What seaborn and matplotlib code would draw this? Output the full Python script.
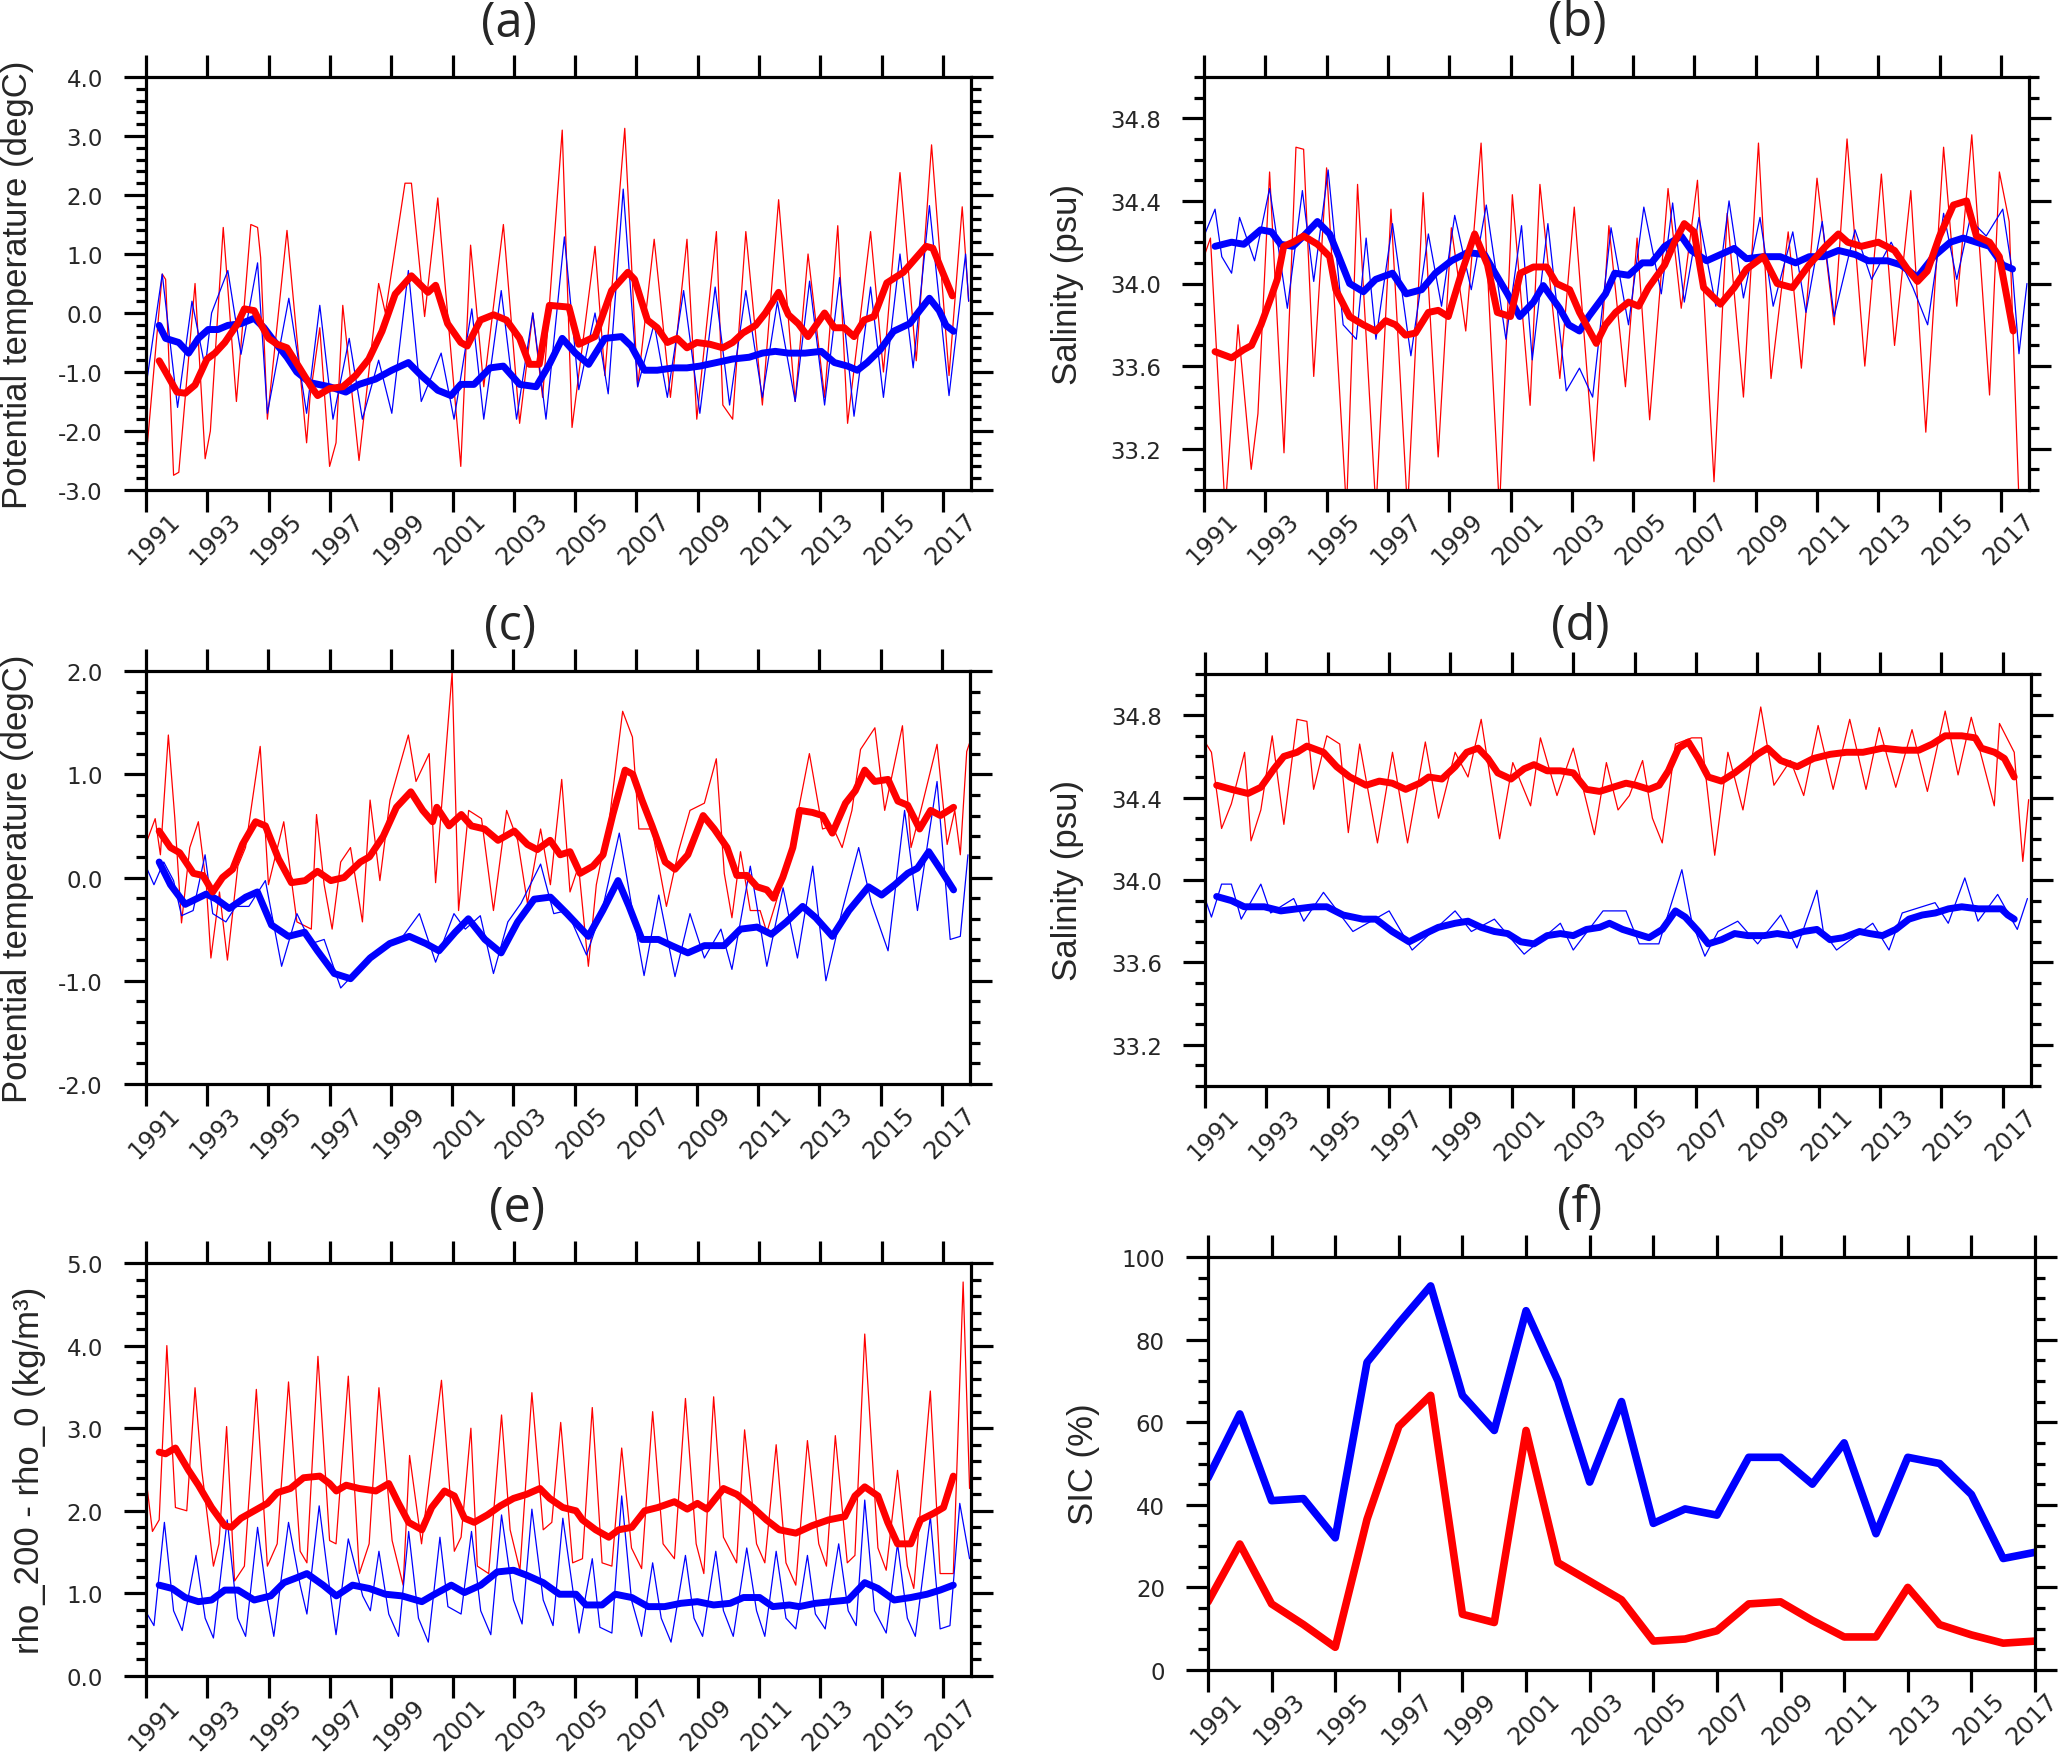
import matplotlib
matplotlib.use("Agg")
import matplotlib.pyplot as plt
import matplotlib.transforms as mtransforms
import seaborn as sns
from matplotlib.ticker import MultipleLocator, FixedLocator, FuncFormatter

# ---------------- data (year, value) ----------------
# (a) potential temperature, surface layer
a_red_thin = [(1991.04,-2.25),(1991.53,0.66),(1991.64,0.57),(1991.9,-2.75),(1992.07,-2.7),(1992.6,0.5),
    (1992.93,-2.47),(1993.1,-2.0),(1993.52,1.45),(1993.95,-1.5),(1994.42,1.5),(1994.64,1.45),(1994.74,0.94),
    (1994.96,-1.8),(1995.6,1.4),(1996.24,-2.2),(1996.35,-1.43),(1996.67,-0.25),(1996.99,-2.6),(1997.2,-2.2),
    (1997.42,0.13),(1997.95,-2.5),(1998.59,0.5),(1998.81,0.0),(1999.45,2.2),(1999.66,2.2),(2000.09,-0.06),
    (2000.52,1.95),(2000.63,1.25),(2001.27,-2.6),(2001.59,1.15),(2002.02,-1.25),(2002.66,1.5),(2003.19,-1.87),
    (2003.62,0.0),(2003.94,-1.43),(2004.58,3.1),(2004.9,-1.94),(2005.65,1.13),(2005.97,-1.06),(2006.62,3.13),
    (2007.04,-1.25),(2007.58,1.25),(2008.11,-1.43),(2008.65,1.25),(2008.97,-1.8),(2009.61,1.38),(2009.82,-1.56),
    (2010.14,-1.8),(2010.57,1.38),(2011.11,-1.56),(2011.64,1.92),(2012.18,-1.5),(2012.6,1.0),(2013.14,-1.43),
    (2013.57,1.48),(2013.89,-1.87),(2014.64,1.38),(2015.06,-1.0),(2015.6,2.38),(2016.13,-0.81),(2016.63,2.85),
    (2017.2,-1.06),(2017.63,1.8),(2017.84,0.2)]
a_blue_thin = [(1991.04,-1.1),(1991.53,0.66),(1992.03,-1.6),(1992.5,0.2),(1992.93,-0.93),(1993.14,0.0),
    (1993.67,0.72),(1994.1,-0.7),(1994.64,0.85),(1994.96,-1.7),(1995.66,0.25),(1996.24,-1.7),(1996.67,0.13),
    (1997.1,-1.8),(1997.63,-0.43),(1998.06,-1.8),(1998.59,-0.8),(1999.02,-1.7),(1999.56,0.72),(1999.98,-1.5),
    (2000.63,-0.68),(2001.05,-1.8),(2001.63,0.07),(2002.02,-1.8),(2002.59,0.38),(2003.09,-1.8),(2003.62,0.0),
    (2004.05,-1.8),(2004.65,1.29),(2005.12,-1.3),(2005.65,0.0),(2006.08,-1.37),(2006.57,2.1),(2007.04,-1.25),
    (2007.58,-0.18),(2008.01,-1.43),(2008.54,0.38),(2009.07,-1.7),(2009.57,0.44),(2010.04,-1.56),(2010.57,0.38),
    (2011.11,-1.43),(2011.6,0.19),(2012.18,-1.5),(2012.65,0.54),(2013.14,-1.56),(2013.63,0.6),(2014.1,-1.75),
    (2014.64,0.44),(2015.06,-1.43),(2015.6,1.0),(2016.03,-0.93),(2016.56,1.82),(2017.2,-1.4),(2017.74,1.0),
    (2017.84,0.2)]
a_red_thick = [(1991.43,-0.81),(1991.64,-1.0),(1992.01,-1.34),(1992.28,-1.36),(1992.6,-1.22),(1992.99,-0.78),
    (1993.25,-0.68),(1993.57,-0.5),(1993.99,-0.18),(1994.21,0.07),(1994.53,0.04),(1994.74,-0.18),(1995.0,-0.43),
    (1995.28,-0.53),(1995.6,-0.59),(1996.01,-0.93),(1996.39,-1.25),(1996.6,-1.4),(1996.99,-1.28),(1997.42,-1.25),
    (1997.84,-1.06),(1998.27,-0.78),(1998.7,-0.31),(1999.13,0.32),(1999.66,0.63),(2000.2,0.35),(2000.45,0.47),
    (2000.84,-0.18),(2001.27,-0.5),(2001.48,-0.56),(2001.91,-0.12),(2002.34,-0.03),(2002.76,-0.12),(2003.19,-0.43),
    (2003.51,-0.87),(2003.83,-0.87),(2004.16,0.13),(2004.8,0.1),(2005.12,-0.53),(2005.65,-0.4),(2006.19,0.38),
    (2006.72,0.69),(2006.94,0.57),(2007.36,-0.12),(2007.68,-0.25),(2008.01,-0.5),(2008.33,-0.43),(2008.65,-0.59),
    (2008.97,-0.5),(2009.4,-0.53),(2009.82,-0.59),(2010.14,-0.5),(2010.47,-0.34),(2010.89,-0.21),(2011.21,0.0),
    (2011.64,0.35),(2011.96,-0.03),(2012.28,-0.18),(2012.6,-0.4),(2013.14,0.0),(2013.46,-0.25),(2013.78,-0.25),
    (2014.1,-0.4),(2014.43,-0.12),(2014.75,-0.06),(2015.17,0.51),(2015.71,0.69),(2016.13,0.94),(2016.45,1.13),
    (2016.67,1.1),(2016.99,0.69),(2017.31,0.29)]
a_blue_thick = [(1991.43,-0.21),(1991.64,-0.43),(1992.07,-0.5),(1992.39,-0.68),(1992.71,-0.43),(1993.03,-0.28),
    (1993.35,-0.28),(1993.67,-0.21),(1994.1,-0.18),(1994.53,-0.09),(1994.85,-0.25),(1995.17,-0.47),(1995.6,-0.75),
    (1995.92,-1.0),(1996.35,-1.18),(1996.99,-1.25),(1997.52,-1.34),(1997.95,-1.21),(1998.49,-1.12),(1999.02,-0.97),
    (1999.56,-0.84),(1999.98,-1.06),(2000.52,-1.31),(2000.95,-1.4),(2001.27,-1.21),(2001.7,-1.21),(2002.23,-0.93),
    (2002.66,-0.9),(2003.19,-1.21),(2003.73,-1.25),(2004.16,-0.87),(2004.58,-0.43),(2005.01,-0.68),(2005.44,-0.87),
    (2005.97,-0.43),(2006.51,-0.4),(2006.83,-0.56),(2007.26,-0.97),(2007.68,-0.97),(2008.22,-0.93),(2008.65,-0.93),
    (2009.07,-0.9),(2009.61,-0.84),(2010.14,-0.78),(2010.68,-0.75),(2011.11,-0.68),(2011.53,-0.65),(2011.96,-0.68),
    (2012.5,-0.68),(2013.03,-0.65),(2013.46,-0.84),(2013.89,-0.9),(2014.21,-0.97),(2014.53,-0.84),(2014.96,-0.62),
    (2015.39,-0.31),(2015.92,-0.18),(2016.24,0.04),(2016.56,0.25),(2016.88,0.04),(2017.1,-0.21),(2017.35,-0.31)]

# (b) salinity, surface layer
b_red_thin = [(1991.0,34.13),(1991.21,34.22),(1991.69,32.9),(1992.11,33.8),(1992.54,33.1),(1992.76,33.37),
    (1993.14,34.54),(1993.61,33.18),(1994.0,34.66),(1994.25,34.65),(1994.58,33.55),(1995.0,34.56),(1995.65,32.9),
    (1996.01,34.48),(1996.61,32.9),(1997.1,34.36),(1997.64,32.9),(1998.15,34.44),(1998.64,33.16),(1999.07,34.27),
    (1999.54,33.77),(2000.04,34.68),(2000.64,32.9),(2001.06,34.43),(2001.64,33.41),(2001.96,34.48),(2002.61,33.54),
    (2003.08,34.37),(2003.72,33.14),(2004.21,34.28),(2004.75,33.5),(2005.13,34.22),(2005.54,33.34),(2006.14,34.46),
    (2006.57,33.88),(2007.1,34.5),(2007.64,33.04),(2008.07,34.34),(2008.6,33.45),(2009.09,34.68),(2009.5,33.54),
    (2010.06,34.25),(2010.49,33.59),(2011.0,34.51),(2011.56,33.8),(2011.98,34.7),(2012.56,33.6),(2013.1,34.53),
    (2013.53,33.7),(2014.06,34.45),(2014.55,33.28),(2015.13,34.66),(2015.56,33.89),(2016.05,34.72),(2016.63,33.46),
    (2016.95,34.54),(2017.27,34.3),(2017.6,32.9),(2017.81,32.9)]
b_blue_thin = [(1991.0,34.23),(1991.36,34.36),(1991.58,34.13),(1991.9,34.05),(1992.16,34.32),(1992.65,34.11),
    (1993.14,34.46),(1993.72,33.88),(1994.21,34.45),(1994.58,34.01),(1995.05,34.55),(1995.54,33.8),(1995.97,33.73),
    (1996.29,34.22),(1996.61,33.73),(1997.15,34.29),(1997.75,33.65),(1998.32,34.24),(1998.75,33.89),(1999.18,34.33),
    (1999.72,33.97),(2000.21,34.38),(2000.85,33.73),(2001.36,34.28),(2001.71,33.63),(2002.22,34.29),(2002.82,33.48),
    (2003.25,33.59),(2003.68,33.45),(2004.28,34.27),(2004.85,33.8),(2005.35,34.37),(2005.92,33.95),(2006.29,34.39),
    (2006.67,33.91),(2007.15,34.32),(2007.7,33.89),(2008.13,34.4),(2008.6,33.93),(2009.14,34.32),(2009.57,33.89),
    (2010.21,34.25),(2010.64,33.86),(2011.17,34.3),(2011.56,33.84),(2012.24,34.26),(2012.78,34.02),(2013.42,34.2),
    (2014.13,33.98),(2014.61,33.8),(2015.13,34.34),(2015.56,34.02),(2015.99,34.31),(2016.52,34.23),(2017.06,34.36),
    (2017.38,34.05),(2017.59,33.66),(2017.85,34.0)]
b_red_thick = [(1991.36,33.67),(1991.9,33.64),(1992.3,33.68),(1992.55,33.7),(1992.86,33.8),(1993.18,33.93),
    (1993.39,34.02),(1993.6,34.18),(1993.9,34.2),(1994.25,34.23),(1994.7,34.19),(1995.1,34.13),(1995.3,33.97),
    (1995.75,33.84),(1996.2,33.8),(1996.6,33.77),(1996.93,33.82),(1997.25,33.8),(1997.57,33.75),(1997.9,33.76),
    (1998.32,33.86),(1998.64,33.87),(1998.97,33.84),(1999.4,34.05),(1999.83,34.24),(2000.25,34.09),(2000.57,33.86),
    (2001.0,33.84),(2001.32,34.05),(2001.75,34.08),(2002.18,34.08),(2002.5,34.0),(2002.93,33.97),(2003.25,33.86),
    (2003.8,33.71),(2004.1,33.8),(2004.43,33.86),(2004.85,33.91),(2005.18,33.89),(2005.5,33.98),(2006.03,34.09),
    (2006.35,34.2),(2006.67,34.29),(2006.99,34.25),(2007.3,33.98),(2007.85,33.9),(2008.3,33.98),(2008.7,34.07),
    (2009.25,34.13),(2009.7,34.0),(2010.2,33.98),(2010.74,34.09),(2011.28,34.18),(2011.7,34.24),(2012.0,34.2),
    (2012.45,34.18),(2013.0,34.2),(2013.53,34.16),(2013.95,34.07),(2014.28,34.01),(2014.6,34.06),(2015.0,34.23),
    (2015.45,34.38),(2015.88,34.4),(2016.2,34.23),(2016.63,34.2),(2016.95,34.13),(2017.15,33.97),(2017.4,33.77)]
b_blue_thick = [(1991.36,34.18),(1991.9,34.2),(1992.3,34.19),(1992.85,34.26),(1993.2,34.25),(1993.5,34.19),
    (1993.9,34.18),(1994.25,34.23),(1994.7,34.3),(1995.1,34.24),(1995.4,34.13),(1995.75,34.0),(1996.2,33.96),
    (1996.6,34.02),(1997.15,34.05),(1997.6,33.95),(1998.1,33.97),(1998.55,34.05),(1999.07,34.11),(1999.6,34.15),
    (2000.15,34.14),(2000.5,34.05),(2000.9,33.95),(2001.3,33.84),(2001.75,33.91),(2002.07,33.99),(2002.6,33.88),
    (2002.9,33.8),(2003.25,33.77),(2003.55,33.84),(2004.1,33.95),(2004.4,34.05),(2004.85,34.04),(2005.3,34.1),
    (2005.6,34.1),(2006.03,34.18),(2006.57,34.23),(2006.9,34.16),(2007.4,34.11),(2007.85,34.14),(2008.3,34.17),
    (2008.7,34.12),(2009.25,34.13),(2009.8,34.13),(2010.3,34.1),(2010.75,34.13),(2011.2,34.13),(2011.7,34.16),
    (2012.25,34.14),(2012.67,34.11),(2013.3,34.11),(2013.74,34.09),(2014.27,34.03),(2014.8,34.13),(2015.35,34.2),
    (2015.77,34.22),(2016.2,34.2),(2016.63,34.18),(2017.06,34.09),(2017.38,34.07)]

# (c) potential temperature, deeper layer
c_red_thin = [(1991.04,0.36),(1991.3,0.57),(1991.47,0.22),(1991.73,1.38),(1991.94,0.58),(1992.16,-0.44),
    (1992.43,0.29),(1992.71,0.54),(1992.97,-0.07),(1993.12,-0.78),(1993.4,-0.14),(1993.66,-0.8),(1994.0,0.11),
    (1994.25,0.29),(1994.73,1.27),(1995.0,-0.07),(1995.5,0.54),(1995.93,-0.43),(1996.4,-0.5),(1996.57,0.61),
    (1996.82,-0.07),(1997.08,-0.5),(1997.36,0.15),(1997.68,0.29),(1998.07,-0.43),(1998.32,0.75),(1998.64,-0.03),
    (1998.97,0.75),(1999.57,1.38),(1999.82,0.93),(2000.25,1.2),(2000.46,-0.05),(2001.0,1.99),(2001.21,-0.32),
    (2001.54,0.65),(2001.96,0.57),(2002.35,-0.32),(2002.78,0.65),(2003.14,0.36),(2003.46,-0.25),(2003.89,0.47),
    (2004.21,-0.07),(2004.58,0.95),(2004.85,-0.14),(2005.13,0.11),(2005.45,-0.86),(2005.71,-0.07),(2006.14,0.57),
    (2006.57,1.61),(2006.89,1.36),(2007.1,0.47),(2007.53,0.47),(2008.0,-0.28),(2008.39,0.25),(2008.77,0.65),
    (2009.24,0.72),(2009.63,1.15),(2009.89,0.04),(2010.14,-0.39),(2010.42,0.25),(2010.74,-0.32),(2011.06,-0.32),
    (2011.28,-0.53),(2011.64,-0.18),(2012.03,0.22),(2012.67,1.2),(2013.1,0.47),(2013.42,0.5),(2013.74,0.29),
    (2014.06,0.65),(2014.34,1.24),(2014.81,1.45),(2015.13,0.65),(2015.71,1.47),(2015.99,0.29),(2016.31,0.65),
    (2016.84,1.29),(2017.17,0.32),(2017.42,0.65),(2017.6,0.22),(2017.81,1.22),(2017.9,1.3)]
c_blue_thin = [(1991.04,0.08),(1991.26,-0.07),(1991.58,0.15),(1991.9,-0.03),(1992.16,-0.37),(1992.54,-0.32),
    (1992.93,0.22),(1993.18,-0.35),(1993.61,-0.43),(1993.93,-0.28),(1994.36,-0.28),(1994.9,-0.03),(1995.43,-0.86),
    (1995.93,-0.35),(1996.4,-0.64),(1996.82,-0.6),(1997.36,-1.07),(1997.9,-0.9),(1998.32,-0.75),(1998.97,-0.64),
    (1999.39,-0.57),(1999.93,-0.35),(2000.46,-0.82),(2001.06,-0.35),(2001.43,-0.5),(2001.92,-0.37),(2002.35,-0.93),
    (2002.82,-0.43),(2003.25,-0.25),(2003.89,0.13),(2004.32,-0.35),(2004.75,-0.32),(2005.39,-0.75),(2005.93,-0.28),
    (2006.46,0.43),(2006.85,-0.25),(2007.27,-0.95),(2007.75,-0.17),(2008.28,-0.96),(2008.77,-0.35),(2009.24,-0.78),
    (2009.78,-0.5),(2010.14,-0.89),(2010.74,0.11),(2011.28,-0.86),(2011.81,-0.1),(2012.28,-0.78),(2012.78,0.11),
    (2013.21,-1.0),(2013.74,-0.32),(2014.28,0.29),(2014.7,-0.25),(2015.24,-0.71),(2015.78,0.65),(2016.2,-0.32),
    (2016.84,0.93),(2017.27,-0.6),(2017.6,-0.57),(2017.85,0.22)]
c_red_thick = [(1991.43,0.45),(1991.8,0.29),(1992.1,0.24),(1992.55,0.04),(1992.86,0.02),(1993.18,-0.14),
    (1993.5,0.0),(1993.83,0.08),(1994.15,0.32),(1994.58,0.54),(1994.9,0.5),(1995.33,0.18),(1995.75,-0.05),
    (1996.2,-0.03),(1996.6,0.06),(1997.04,-0.03),(1997.47,0.0),(1998.0,0.15),(1998.3,0.2),(1998.75,0.4),
    (1999.18,0.68),(1999.65,0.83),(2000.04,0.65),(2000.36,0.54),(2000.5,0.68),(2000.9,0.5),(2001.3,0.61),
    (2001.63,0.5),(2002.06,0.47),(2002.5,0.36),(2003.03,0.45),(2003.46,0.32),(2003.78,0.27),(2004.2,0.36),
    (2004.53,0.22),(2004.85,0.25),(2005.18,0.04),(2005.6,0.11),(2005.93,0.22),(2006.25,0.61),(2006.65,1.04),
    (2006.9,1.0),(2007.2,0.75),(2007.53,0.5),(2007.96,0.15),(2008.28,0.08),(2008.7,0.22),(2009.2,0.6),
    (2009.56,0.47),(2009.98,0.29),(2010.3,0.02),(2010.63,0.02),(2010.96,-0.09),(2011.28,-0.12),(2011.5,-0.2),
    (2011.8,0.0),(2012.13,0.29),(2012.35,0.65),(2012.77,0.63),(2013.1,0.6),(2013.42,0.43),(2013.85,0.72),
    (2014.17,0.84),(2014.48,1.04),(2014.8,0.93),(2015.24,0.95),(2015.56,0.74),(2015.88,0.7),(2016.27,0.47),
    (2016.63,0.65),(2016.95,0.6),(2017.38,0.68)]
c_blue_thick = [(1991.43,0.15),(1991.8,-0.07),(1992.28,-0.26),(1992.97,-0.16),(1993.3,-0.21),(1993.72,-0.3),
    (1994.26,-0.19),(1994.64,-0.14),(1995.1,-0.46),(1995.65,-0.57),(1996.18,-0.53),(1996.6,-0.71),(1997.15,-0.93),
    (1997.68,-0.98),(1998.32,-0.78),(1998.96,-0.64),(1999.6,-0.57),(2000.14,-0.64),(2000.57,-0.71),(2001.1,-0.53),
    (2001.53,-0.4),(2002.07,-0.6),(2002.6,-0.73),(2003.14,-0.43),(2003.68,-0.21),(2004.21,-0.19),(2004.75,-0.35),
    (2005.45,-0.57),(2005.92,-0.32),(2006.42,-0.03),(2006.78,-0.28),(2007.2,-0.6),(2007.74,-0.6),(2008.17,-0.66),
    (2008.7,-0.73),(2009.24,-0.66),(2009.88,-0.66),(2010.42,-0.5),(2010.96,-0.48),(2011.43,-0.55),(2011.92,-0.43),
    (2012.45,-0.28),(2012.88,-0.39),(2013.42,-0.57),(2013.96,-0.32),(2014.6,-0.09),(2015.03,-0.17),(2015.46,-0.07),
    (2015.88,0.04),(2016.2,0.09),(2016.57,0.25),(2016.95,0.08),(2017.38,-0.12)]

# (d) salinity, deeper layer
d_red_thin = [(1991.0,34.67),(1991.21,34.62),(1991.54,34.25),(1991.86,34.37),(1992.29,34.62),(1992.5,34.19),
    (1992.82,34.34),(1993.19,34.7),(1993.57,34.27),(1994.0,34.78),(1994.32,34.77),(1994.54,34.44),(1994.97,34.7),
    (1995.39,34.66),(1995.67,34.23),(1996.04,34.66),(1996.62,34.18),(1997.11,34.62),(1997.6,34.18),(1998.18,34.67),
    (1998.61,34.3),(1999.15,34.62),(1999.57,34.5),(2000.0,34.78),(2000.6,34.2),(2001.03,34.57),(2001.61,34.36),
    (2001.93,34.69),(2002.47,34.41),(2003.0,34.64),(2003.69,34.22),(2004.08,34.57),(2004.46,34.34),(2004.83,34.41),
    (2005.26,34.58),(2005.58,34.3),(2005.9,34.18),(2006.33,34.66),(2006.86,34.69),(2007.18,34.69),(2007.61,34.12),
    (2008.04,34.62),(2008.53,34.34),(2009.11,34.84),(2009.54,34.46),(2010.08,34.58),(2010.51,34.41),(2010.98,34.75),
    (2011.47,34.44),(2012.01,34.78),(2012.54,34.44),(2012.97,34.74),(2013.51,34.45),(2014.04,34.73),(2014.54,34.43),
    (2015.12,34.82),(2015.54,34.51),(2015.97,34.79),(2016.72,34.36),(2016.89,34.76),(2017.37,34.62),(2017.65,34.09),
    (2017.84,34.39)]
d_blue_thin = [(1991.0,33.91),(1991.21,33.82),(1991.54,33.98),(1991.86,33.98),(1992.18,33.81),(1992.82,33.98),
    (1993.14,33.84),(1993.89,33.91),(1994.22,33.8),(1994.86,33.94),(1995.82,33.75),(1997.0,33.85),(1997.75,33.66),
    (1999.15,33.85),(1999.68,33.75),(2000.43,33.81),(2001.4,33.64),(2002.58,33.79),(2003.0,33.66),(2003.97,33.85),
    (2004.72,33.85),(2005.15,33.69),(2005.79,33.69),(2006.54,34.05),(2006.86,33.8),(2007.29,33.63),(2007.72,33.75),
    (2008.36,33.8),(2009.01,33.69),(2009.76,33.83),(2010.29,33.67),(2010.94,33.95),(2011.15,33.75),(2011.58,33.66),
    (2012.76,33.79),(2013.29,33.66),(2013.72,33.84),(2014.79,33.89),(2015.22,33.79),(2015.76,34.01),(2016.19,33.8),
    (2016.83,33.93),(2017.47,33.76),(2017.8,33.91)]
d_red_thick = [(1991.38,34.46),(1991.86,34.44),(1992.4,34.42),(1992.82,34.45),(1993.25,34.54),(1993.57,34.6),
    (1994.0,34.62),(1994.32,34.65),(1994.86,34.62),(1995.29,34.55),(1995.72,34.5),(1996.25,34.46),(1996.68,34.48),
    (1997.1,34.47),(1997.54,34.44),(1998.0,34.47),(1998.29,34.5),(1998.72,34.49),(1999.15,34.55),(1999.53,34.62),
    (1999.9,34.64),(2000.22,34.59),(2000.54,34.52),(2000.97,34.49),(2001.4,34.54),(2001.72,34.56),(2002.15,34.53),
    (2002.58,34.53),(2003.0,34.52),(2003.43,34.44),(2003.86,34.43),(2004.29,34.45),(2004.72,34.47),(2005.04,34.46),
    (2005.47,34.44),(2005.8,34.46),(2006.1,34.53),(2006.43,34.64),(2006.75,34.67),(2007.08,34.59),(2007.4,34.5),
    (2007.83,34.48),(2008.26,34.52),(2008.69,34.57),(2009.0,34.61),(2009.33,34.64),(2009.76,34.58),(2010.3,34.55),
    (2010.83,34.59),(2011.37,34.61),(2011.9,34.62),(2012.44,34.62),(2013.08,34.64),(2013.72,34.63),(2014.26,34.63),
    (2014.7,34.66),(2015.12,34.7),(2015.66,34.7),(2016.1,34.69),(2016.3,34.64),(2016.73,34.62),(2017.05,34.59),
    (2017.37,34.5)]
d_blue_thick = [(1991.38,33.92),(1991.86,33.9),(1992.28,33.87),(1992.93,33.87),(1993.47,33.85),(1994.0,33.86),
    (1994.54,33.87),(1994.97,33.87),(1995.5,33.83),(1996.14,33.81),(1996.57,33.81),(1997.1,33.75),(1997.65,33.7),
    (1998.18,33.74),(1998.6,33.77),(1999.15,33.79),(1999.57,33.8),(2000.0,33.77),(2000.43,33.75),(2000.86,33.74),
    (2001.29,33.7),(2001.72,33.69),(2002.15,33.73),(2002.58,33.74),(2003.0,33.73),(2003.43,33.76),(2003.86,33.77),
    (2004.18,33.79),(2004.61,33.76),(2005.04,33.74),(2005.47,33.72),(2005.9,33.76),(2006.33,33.85),(2006.65,33.82),
    (2007.08,33.75),(2007.4,33.69),(2007.83,33.71),(2008.26,33.74),(2008.69,33.73),(2009.22,33.73),(2009.65,33.74),
    (2010.08,33.73),(2010.5,33.75),(2010.94,33.76),(2011.37,33.71),(2011.8,33.72),(2012.33,33.75),(2012.66,33.74),
    (2013.08,33.73),(2013.51,33.76),(2013.94,33.81),(2014.37,33.83),(2014.8,33.84),(2015.23,33.86),(2015.66,33.87),
    (2016.2,33.86),(2016.63,33.86),(2016.95,33.86),(2017.16,33.83),(2017.37,33.81)]

# (e) density difference rho_200 - rho_0
e_red_thin = [(1991.04,2.27),(1991.21,1.75),(1991.43,1.89),(1991.68,4.0),(1991.96,2.04),(1992.33,2.0),
    (1992.6,3.49),(1992.82,2.49),(1993.2,1.33),(1993.38,1.6),(1993.63,3.02),(1993.89,1.15),(1994.21,1.33),
    (1994.6,3.47),(1994.96,1.33),(1995.28,1.6),(1995.65,3.56),(1996.03,1.51),(1996.25,1.37),(1996.61,3.87),
    (1996.99,1.64),(1997.2,1.6),(1997.6,3.63),(1997.96,1.24),(1998.28,1.6),(1998.6,3.49),(1999.03,1.64),
    (1999.39,1.1),(1999.6,2.67),(1999.99,1.6),(2000.64,3.58),(2001.06,1.51),(2001.28,1.68),(2001.6,3.0),
    (2001.81,1.33),(2002.18,1.24),(2002.6,3.16),(2002.88,1.77),(2003.2,1.28),(2003.59,3.43),(2003.96,1.77),
    (2004.24,1.86),(2004.53,3.07),(2004.92,1.37),(2005.24,1.42),(2005.56,3.25),(2005.88,1.37),(2006.2,1.33),
    (2006.52,2.76),(2006.84,1.55),(2007.17,1.3),(2007.53,3.2),(2007.87,1.6),(2008.24,1.42),(2008.6,3.36),
    (2008.95,1.6),(2009.2,1.24),(2009.52,3.38),(2009.84,1.68),(2010.27,1.37),(2010.53,2.98),(2010.92,1.6),
    (2011.19,1.37),(2011.56,2.8),(2011.88,1.37),(2012.2,1.1),(2012.58,2.85),(2012.95,1.6),(2013.2,1.33),
    (2013.49,2.91),(2013.88,1.37),(2014.13,1.46),(2014.45,4.14),(2014.88,1.55),(2015.15,1.28),(2015.52,2.49),
    (2015.84,1.33),(2016.05,1.06),(2016.59,3.45),(2016.91,1.24),(2017.34,1.24),(2017.66,4.77),(2017.87,2.27)]
e_blue_thin = [(1991.04,0.75),(1991.26,0.61),(1991.6,1.86),(1991.9,0.79),(1992.18,0.55),(1992.63,1.46),
    (1992.93,0.7),(1993.2,0.46),(1993.65,1.89),(1993.99,0.7),(1994.25,0.48),(1994.64,1.8),(1994.96,0.92),
    (1995.17,0.48),(1995.65,1.86),(1996.03,1.1),(1996.25,0.75),(1996.65,2.06),(1996.99,1.06),(1997.2,0.5),
    (1997.6,1.66),(1998.07,0.97),(1998.32,0.79),(1998.6,1.51),(1998.92,0.75),(1999.24,0.48),(1999.57,1.75),
    (1999.89,0.7),(2000.21,0.41),(2000.59,1.68),(2000.85,0.84),(2001.28,0.75),(2001.62,1.75),(2001.92,0.79),
    (2002.25,0.5),(2002.6,1.95),(2002.99,0.92),(2003.27,0.63),(2003.59,2.02),(2003.96,0.92),(2004.28,0.61),
    (2004.6,1.91),(2004.92,1.06),(2005.13,0.52),(2005.56,1.42),(2005.81,0.59),(2006.2,0.52),(2006.52,2.18),
    (2006.84,0.92),(2007.17,0.48),(2007.53,1.37),(2007.81,0.7),(2008.13,0.41),(2008.6,1.46),(2008.88,0.7),
    (2009.16,0.48),(2009.59,1.51),(2009.84,0.79),(2010.16,0.48),(2010.6,1.55),(2010.92,0.79),(2011.19,0.48),
    (2011.56,1.51),(2011.88,0.7),(2012.2,0.57),(2012.58,1.46),(2012.84,0.75),(2013.16,0.57),(2013.6,1.6),
    (2013.91,0.79),(2014.17,0.61),(2014.45,2.13),(2014.77,0.79),(2015.15,0.52),(2015.52,1.6),(2015.84,0.7),
    (2016.1,0.48),(2016.59,1.93),(2016.91,0.57),(2017.23,0.61),(2017.55,2.09),(2017.87,1.42)]
e_red_thick = [(1991.43,2.71),(1991.64,2.69),(1991.96,2.76),(1992.39,2.49),(1992.71,2.31),(1993.14,2.04),
    (1993.57,1.82),(1993.78,1.8),(1994.1,1.91),(1994.53,2.0),(1994.96,2.09),(1995.28,2.22),(1995.71,2.27),
    (1996.14,2.4),(1996.67,2.42),(1996.99,2.33),(1997.21,2.24),(1997.53,2.31),(1997.96,2.27),(1998.5,2.24),
    (1998.92,2.33),(1999.24,2.09),(1999.57,1.86),(2000.0,1.77),(2000.32,2.04),(2000.74,2.24),(2001.06,2.18),
    (2001.39,1.91),(2001.71,1.86),(2002.14,1.95),(2002.56,2.06),(2002.99,2.15),(2003.42,2.2),(2003.85,2.27),
    (2004.17,2.15),(2004.6,2.04),(2005.03,2.0),(2005.24,1.89),(2005.67,1.77),(2006.1,1.68),(2006.42,1.77),
    (2006.85,1.8),(2007.27,2.0),(2007.7,2.04),(2008.24,2.11),(2008.66,2.02),(2008.99,2.09),(2009.3,2.02),
    (2009.84,2.27),(2010.27,2.2),(2010.8,2.04),(2011.24,1.89),(2011.66,1.77),(2012.2,1.73),(2012.73,1.82),
    (2013.27,1.89),(2013.8,1.93),(2014.13,2.18),(2014.45,2.29),(2014.88,2.18),(2015.2,1.86),(2015.52,1.6),
    (2015.95,1.6),(2016.27,1.89),(2016.7,1.97),(2017.02,2.04),(2017.34,2.42)]
e_blue_thick = [(1991.43,1.1),(1991.85,1.06),(1992.28,0.95),(1992.71,0.9),(1993.14,0.92),(1993.57,1.04),
    (1994.0,1.04),(1994.53,0.92),(1995.07,0.97),(1995.5,1.13),(1995.92,1.19),(1996.25,1.24),(1996.78,1.1),
    (1997.21,0.97),(1997.74,1.1),(1998.28,1.06),(1998.81,0.99),(1999.35,0.97),(2000.0,0.9),(2000.42,0.99),
    (2000.96,1.1),(2001.39,1.01),(2001.92,1.1),(2002.46,1.26),(2002.99,1.28),(2003.42,1.22),(2003.96,1.13),
    (2004.49,0.99),(2005.03,0.99),(2005.35,0.86),(2005.88,0.86),(2006.31,0.99),(2006.85,0.95),(2007.38,0.84),
    (2007.92,0.84),(2008.45,0.88),(2008.99,0.9),(2009.52,0.86),(2010.06,0.88),(2010.49,0.95),(2011.02,0.95),
    (2011.45,0.84),(2011.99,0.86),(2012.31,0.84),(2012.84,0.88),(2013.38,0.9),(2013.91,0.92),(2014.45,1.13),
    (2014.88,1.06),(2015.41,0.92),(2015.95,0.95),(2016.48,0.99),(2016.91,1.04),(2017.34,1.1)]

# (f) sea-ice concentration, yearly
f_years = [1991, 1992, 1993, 1994, 1995, 1996, 1997, 1998, 1999, 2000, 2001, 2002, 2003, 2004,
           2005, 2006, 2007, 2008, 2009, 2010, 2011, 2012, 2013, 2014, 2015, 2016, 2017]
f_blue = [46.5, 62, 41, 41.5, 32, 74.5, 84, 93, 66.5, 58, 87, 70, 45.5, 65,
          35.5, 39, 37.5, 51.5, 51.5, 45, 55, 33, 51.5, 50, 42.5, 27, 28.5]
f_red = [16.5, 30.5, 16, 11, 5.5, 36.5, 59, 66.5, 13.5, 11.5, 58, 26, 21.5, 17,
         7, 7.5, 9.5, 16, 16.5, 12, 8, 8, 20, 11, 8.5, 6.5, 7]

x_ticks = [1991, 1993, 1995, 1997, 1999, 2001, 2003, 2005, 2007, 2009, 2011, 2013, 2015, 2017]
titles = ["(a)", "(b)", "(c)", "(d)", "(e)", "(f)"]
ylabels = ["Potential temperature (degC)", "Salinity (psu)", "Potential temperature (degC)",
           "Salinity (psu)", "rho_200 - rho_0 (kg/m\u00b3)", "SIC (%)"]

# ---------------- figure ----------------
sns.set_theme(style="white")
plt.rcParams["font.family"] = ["DejaVu Sans"]
plt.rcParams["axes.unicode_minus"] = False

W, H = 2067, 1756
fig = plt.figure(figsize=(W / 100, H / 100), dpi=100)


def rect(l, t, r, b):
    return [l / W, 1 - b / H, (r - l) / W, (b - t) / H]


boxes = [(146, 78, 971, 491), (1204, 78, 2029, 491),
         (146, 672, 970, 1085), (1205, 675, 2031, 1087),
         (146, 1264, 971, 1677), (1208, 1258, 2035, 1671)]
title_pos = [(509, 24), (1577, 23), (510, 627), (1580, 627), (517, 1209), (1580, 1209)]
label_x = [18, 1068, 18, 1068, 30, 1083]

THIN, THICK = 0.9, 5.0


def line(ax, pairs, color, lw):
    t = [p[0] for p in pairs]
    v = [p[1] for p in pairs]
    sns.lineplot(x=t, y=v, ax=ax, color=color, lw=lw, estimator=None,
                 sort=False, legend=False)


def fmt1(v, _):
    s = f"{v:.1f}"
    return "0.0" if s == "-0.0" else s


panel_series = [
    (a_red_thin, a_blue_thin, a_blue_thick, a_red_thick),
    (b_red_thin, b_blue_thin, b_blue_thick, b_red_thick),
    (c_red_thin, c_blue_thin, c_blue_thick, c_red_thick),
    (d_red_thin, d_blue_thin, d_blue_thick, d_red_thick),
    (e_red_thin, e_blue_thin, e_blue_thick, e_red_thick),
]
ylims = [(-3, 4), (33.0, 35.0), (-2, 2), (33.0, 35.0), (0, 5), (0, 100)]
shift = mtransforms.ScaledTranslation(8 / 100, 0, fig.dpi_scale_trans)
shift_edge = mtransforms.ScaledTranslation(-3 / 100, 0, fig.dpi_scale_trans)

for i in range(6):
    l, t, r, b = boxes[i]
    ax = fig.add_axes(rect(l, t, r, b))
    if i < 5:
        rt, bt, bk, rk = panel_series[i]
        line(ax, rt, "#ff0000", THIN)
        line(ax, bt, "#0000ff", THIN)
        line(ax, bk, "#0000ff", THICK)
        line(ax, rk, "#ff0000", THICK)
        ax.set_xlim(1991, 2017 + 11 / 12)
    else:
        sns.lineplot(x=f_years, y=f_blue, ax=ax, color="#0000ff", lw=5.5, legend=False)
        sns.lineplot(x=f_years, y=f_red, ax=ax, color="#ff0000", lw=5.5, legend=False)
        ax.set_xlim(1991, 2017)
    ax.set_ylim(*ylims[i])

    # y ticks
    if i in (0, 2, 4):
        ax.yaxis.set_major_locator(MultipleLocator(1.0))
        ax.yaxis.set_minor_locator(MultipleLocator(0.2))
        ax.yaxis.set_major_formatter(FuncFormatter(fmt1))
    elif i in (1, 3):
        ax.yaxis.set_major_locator(FixedLocator([33.2, 33.6, 34.0, 34.4, 34.8]))
        ax.yaxis.set_minor_locator(MultipleLocator(0.1))
        ax.yaxis.set_major_formatter(FuncFormatter(fmt1))
    else:
        ax.yaxis.set_major_locator(MultipleLocator(20))
        ax.yaxis.set_minor_locator(MultipleLocator(5))
        ax.yaxis.set_major_formatter(FuncFormatter(lambda v, _: f"{v:.0f}"))

    ax.set_xticks(x_ticks)
    ax.set_xticklabels([str(y) for y in x_ticks])
    ax.xaxis.set_minor_locator(FixedLocator([]))

    for sp in ax.spines.values():
        sp.set_visible(True)
        sp.set_color("black")
        sp.set_linewidth(2.3)
    ax.tick_params(axis="both", which="both", direction="out", color="black",
                   width=2.3, bottom=True, top=True, left=True, right=True,
                   labeltop=False, labelright=False)
    ax.tick_params(axis="both", which="major", length=16)
    ax.tick_params(axis="y", which="minor", length=7.2)
    ax.tick_params(axis="y", which="major", labelsize=16.5, pad=15)
    ax.tick_params(axis="x", which="major", labelsize=17.5, pad=19)
    labs = ax.get_xticklabels()
    for k, lab in enumerate(labs):
        lab.set_rotation(45)
        lab.set_rotation_mode("anchor")
        lab.set_ha("center")
        lab.set_va("center")
        if i == 5 and k == len(labs) - 1:
            lab.set_transform(lab.get_transform() + shift_edge)
        else:
            lab.set_transform(lab.get_transform() + shift)

    ax.set_xlabel("")
    ax.set_ylabel(ylabels[i], fontsize=25, family=["Liberation Sans", "DejaVu Sans"],
                  va="center")
    ax.yaxis.set_label_coords((label_x[i] - l) / (r - l), 0.5)
    ax.set_facecolor("white")

    tx, ty = title_pos[i]
    fig.text(tx / W, 1 - ty / H, titles[i], fontsize=35,
             family=["Open Sans", "DejaVu Sans"], ha="center", va="center")

fig.savefig("out.png", dpi=100, facecolor="white")
